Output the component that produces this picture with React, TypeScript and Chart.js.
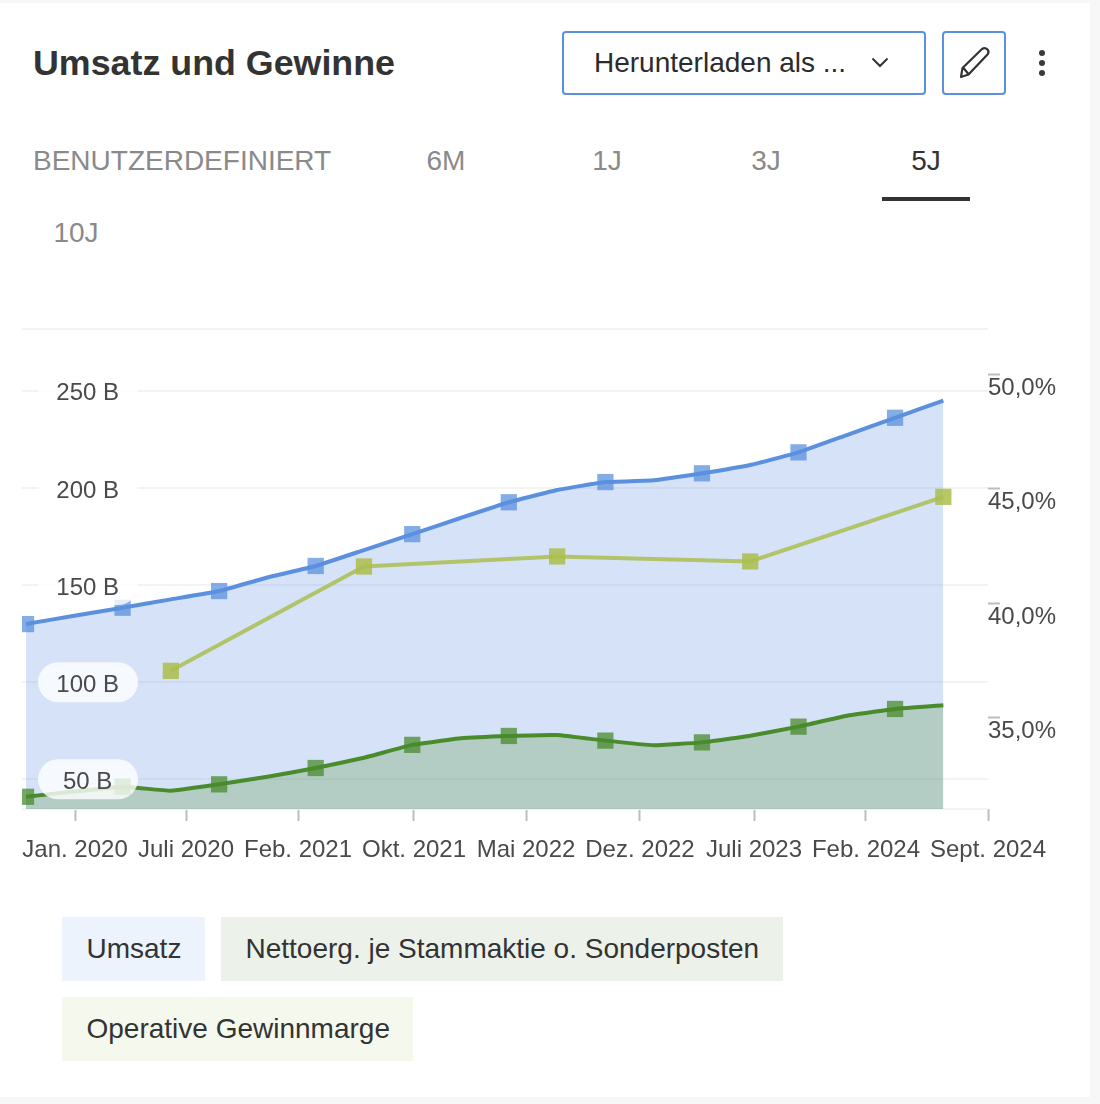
import React, { useEffect, useRef } from "react";
import { Chart, registerables } from "chart.js";

Chart.register(...registerables);

const umsatz = [129.9, 134.2, 138.3, 142.6, 146.9, 153.9, 159.8, 168.0, 176.2, 184.5, 192.6, 198.9, 203.0, 203.9, 207.5, 211.8, 218.3, 227.2, 236.1, 244.9];
const nettoergebnis = [41.0, 43.7, 46.2, 44.1, 47.4, 51.3, 55.8, 61.1, 67.7, 71.1, 72.3, 72.8, 69.9, 67.5, 69.0, 72.4, 77.1, 82.7, 86.2, 88.1];
const margeIndex = [3, 7, 11, 15, 19];
const marge = [37.03, 41.6, 42.04, 41.82, 44.65];

const xTickPositions = [1.015, 3.314, 5.634, 8.036, 10.356, 12.717, 15.079, 17.398, 19.925];
const xTickLabels = ["Jan. 2020", "Juli 2020", "Feb. 2021", "Okt. 2021", "Mai 2022", "Dez. 2022", "Juli 2023", "Feb. 2024", "Sept. 2024"];
const leftTicks = [50, 100, 150, 200, 250];
const rightTicks = [35, 40, 45, 50];
const rightTickLabels = ["35,0%", "40,0%", "45,0%", "50,0%"];
const tabs = ["BENUTZERDEFINIERT", "6M", "1J", "3J", "5J", "10J"];
const legendItems = ["Umsatz", "Nettoerg. je Stammaktie o. Sonderposten", "Operative Gewinnmarge"];

const X_MIN = -0.083;
const X_MAX = 19.925;
const Y_MIN = 34.7;
const Y_MAX = 281.8;
const Y1_MIN = 30.98;
const Y1_MAX = 52;

const FONT = '"Liberation Sans", Arial, sans-serif';
const BLUE = "rgb(91,144,223)";
const GREEN = "rgb(74,139,44)";
const OLIVE = "rgb(178,196,106)";

const pillPlugin = {
  id: "pills",
  afterDatasetsDraw(chart: any) {
    const { ctx, scales } = chart;
    ctx.save();
    ctx.fillStyle = "rgba(255,255,255,0.8)";
    for (const v of leftTicks) {
      const y = scales.y.getPixelForValue(v);
      ctx.beginPath();
      ctx.roundRect(38, y - 20, 100, 40, 20);
      ctx.fill();
    }
    ctx.restore();
  },
};

const abs = (left: number, top: number, width: number, height: number, extra: any = {}) => ({
  position: "absolute" as const,
  left,
  top,
  width,
  height,
  boxSizing: "border-box" as const,
  ...extra,
});

function Tab({ text, cx, cy, active }: { text: string; cx: number; cy: number; active?: boolean }) {
  return (
    <div
      style={{
        position: "absolute",
        left: cx - 200,
        width: 400,
        top: cy - 20,
        height: 40,
        lineHeight: "40px",
        textAlign: "center",
        fontSize: 28,
        color: active ? "#333333" : "#8a8a8a",
      }}
    >
      {text}
    </div>
  );
}

export default function App() {
  const ref = useRef<HTMLCanvasElement | null>(null);

  useEffect(() => {
    if (!ref.current) return;
    const tickFont = { family: FONT, size: 24 };
    const everyOther = (c: any) => (c.dataIndex % 2 === 0 ? 11.5 : 0);
    // The axes take no room of their own, so their labels must not be clipped to them.
    const zeroWidth = (s: any) => {
      s.width = 0;
      s._computeLabelArea = () => undefined;
    };
    const chart = new Chart(ref.current, {
      type: "line",
      plugins: [pillPlugin],
      data: {
        datasets: [
          {
            label: legendItems[2],
            yAxisID: "y1",
            data: margeIndex.map((x, i) => ({ x, y: marge[i] })),
            borderColor: OLIVE,
            borderWidth: 4,
            tension: 0,
            fill: false,
            pointStyle: "rect",
            pointRadius: 11.5,
            pointBorderWidth: 0,
            pointBackgroundColor: "rgba(172,190,75,0.85)",
          },
          {
            label: legendItems[1],
            yAxisID: "y",
            data: nettoergebnis.map((y, x) => ({ x, y })),
            borderColor: GREEN,
            borderWidth: 4,
            tension: 0.1,
            fill: "start",
            backgroundColor: "rgba(74,139,44,0.25)",
            pointStyle: "rect",
            pointRadius: everyOther,
            pointBorderWidth: 0,
            pointBackgroundColor: "rgba(74,139,44,0.75)",
          },
          {
            label: legendItems[0],
            yAxisID: "y",
            data: umsatz.map((y, x) => ({ x, y })),
            borderColor: BLUE,
            borderWidth: 4,
            tension: 0.1,
            fill: "start",
            backgroundColor: "rgba(91,144,223,0.26)",
            pointStyle: "rect",
            pointRadius: everyOther,
            pointBorderWidth: 0,
            pointBackgroundColor: "rgba(91,144,223,0.75)",
          },
        ],
      },
      options: {
        animation: false,
        responsive: false,
        layout: { padding: { left: 22, right: 112, top: 29, bottom: 0 } },
        plugins: { legend: { display: false }, tooltip: { enabled: false } },
        scales: {
          x: {
            type: "linear",
            min: X_MIN,
            max: X_MAX,
            grid: { drawOnChartArea: false, tickLength: 12, tickColor: "#bdbdbd", tickWidth: 2 },
            border: { display: false },
            afterFit: (s: any) => {
              s.height = 71;
            },
            afterBuildTicks: (s: any) => {
              s.ticks = xTickPositions.map((value) => ({ value }));
            },
            ticks: {
              autoSkip: false,
              maxRotation: 0,
              minRotation: 0,
              padding: 15,
              color: "#4a4a4a",
              font: tickFont,
              callback: (v: any) => xTickLabels[xTickPositions.indexOf(v)],
            },
          },
          y: {
            type: "linear",
            position: "left",
            min: Y_MIN,
            max: Y_MAX,
            grid: { color: "#f3f3f3", lineWidth: 2, drawTicks: false },
            border: { display: false },
            afterFit: zeroWidth,
            afterBuildTicks: (s: any) => {
              s.ticks = [Y_MIN, ...leftTicks, Y_MAX].map((value) => ({ value }));
            },
            ticks: {
              z: 1,
              autoSkip: false,
              crossAlign: "center",
              padding: -97,
              labelOffset: 3,
              color: "#4a4a4a",
              font: tickFont,
              callback: (v: any) => (leftTicks.includes(v) ? `${v} B` : ""),
            },
          },
          y1: {
            type: "linear",
            position: "right",
            min: Y1_MIN,
            max: Y1_MAX,
            grid: { drawOnChartArea: false, tickLength: 12, tickColor: "#bdbdbd", tickWidth: 2 },
            border: { display: false },
            afterFit: zeroWidth,
            afterBuildTicks: (s: any) => {
              s.ticks = rightTicks.map((value) => ({ value }));
            },
            ticks: {
              z: 1,
              autoSkip: false,
              padding: -12,
              labelOffset: 14,
              color: "#4a4a4a",
              font: tickFont,
              callback: (v: any) => rightTickLabels[rightTicks.indexOf(v)],
            },
          },
        },
      },
    } as any);
    return () => chart.destroy();
  }, []);

  return (
    <div style={abs(0, 0, 1100, 1104, { background: "#f7f7f7", overflow: "hidden", fontFamily: FONT })}>
      <div style={abs(0, 3, 1090, 1094, { background: "#ffffff" })} />
      <div style={{ position: "absolute", left: 33, top: 38, lineHeight: "50px", fontSize: 35.8, fontWeight: 700, color: "#333333", whiteSpace: "nowrap" }}>
        Umsatz und Gewinne
      </div>

      <div style={abs(562, 31, 364, 64, { border: "2px solid #5b90df", borderRadius: 4 })} />
      <div style={{ position: "absolute", left: 594, top: 43, lineHeight: "40px", fontSize: 28, color: "#2b2b2b", whiteSpace: "nowrap" }}>
        Herunterladen als ...
      </div>
      <svg style={abs(870, 55, 20, 16)} viewBox="0 0 20 16">
        <path d="M2.5 3.5 L10 11 L17.5 3.5" fill="none" stroke="#333" strokeWidth="2" />
      </svg>
      <div style={abs(942, 31, 64, 64, { border: "2px solid #5b90df", borderRadius: 4 })} />
      <svg style={abs(956, 44, 36, 36)} viewBox="0 0 36 36">
        <path
          d="M5 33 L6.5 24 L26 5 Q29 3 31.5 5.5 Q33.5 8 31.5 10.5 L12.5 30.5 Z M7.5 24 L12 29.5"
          fill="none"
          stroke="#333"
          strokeWidth="2.2"
          strokeLinejoin="round"
        />
      </svg>
      <svg style={abs(1034, 46, 16, 34)} viewBox="0 0 16 34">
        <circle cx="8" cy="7" r="3" fill="#3a3a3a" />
        <circle cx="8" cy="17" r="3" fill="#3a3a3a" />
        <circle cx="8" cy="27" r="3" fill="#3a3a3a" />
      </svg>

      <div style={{ position: "absolute", left: 33, top: 141, lineHeight: "40px", fontSize: 28, color: "#8a8a8a", whiteSpace: "nowrap" }}>
        {tabs[0]}
      </div>
      <Tab text={tabs[1]} cx={446} cy={161} />
      <Tab text={tabs[2]} cx={607} cy={161} />
      <Tab text={tabs[3]} cx={766} cy={161} />
      <Tab text={tabs[4]} cx={926} cy={161} active />
      <Tab text={tabs[5]} cx={76} cy={233} />
      <div style={abs(882, 197, 88, 4, { background: "#333333" })} />

      <canvas ref={ref} width={1100} height={580} style={{ position: "absolute", left: 0, top: 300, display: "block" }} />

      {legendItems.map((text, i) => {
        const box = [
          { left: 62, top: 917, width: 143, bg: "#ecf3fc" },
          { left: 221, top: 917, width: 562, bg: "#ecf2ea" },
          { left: 62, top: 997, width: 351, bg: "#f5f8ec" },
        ][i];
        return (
          <div
            key={text}
            style={abs(box.left, box.top, box.width, 64, {
              background: box.bg,
              color: "#333333",
              fontSize: 28,
              lineHeight: "64px",
              paddingLeft: 24.5,
              whiteSpace: "nowrap",
            })}
          >
            {text}
          </div>
        );
      })}
    </div>
  );
}
